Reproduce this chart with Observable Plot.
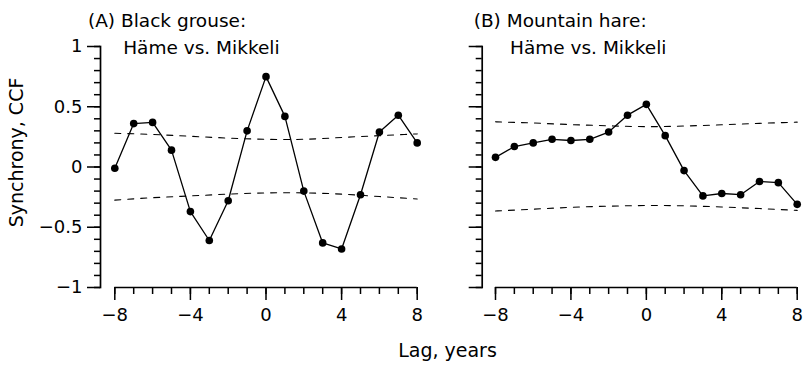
<!DOCTYPE html>
<html><head><meta charset="utf-8">
<script src="https://cdn.jsdelivr.net/npm/d3@7"></script>
<script src="https://cdn.jsdelivr.net/npm/@observablehq/plot@0.6"></script>
<style>
body{margin:0;background:#fff}
#wrap{position:relative;width:806px;height:365px;font-family:"DejaVu Sans"}
#wrap > svg{position:absolute;top:0}
</style>
</head><body><div id="wrap"></div>
<script>
// ---- data ----
const lags = [-8,-7,-6,-5,-4,-3,-2,-1,0,1,2,3,4,5,6,7,8];
const grouseCCF = [-0.01,0.36,0.37,0.14,-0.37,-0.61,-0.28,0.30,0.75,0.42,-0.20,-0.63,-0.68,-0.23,0.29,0.43,0.20];
const hareCCF   = [0.08,0.17,0.20,0.23,0.22,0.23,0.29,0.43,0.52,0.26,-0.03,-0.24,-0.22,-0.23,-0.12,-0.13,-0.31];
const boundLags = [-8,-6,-4,-2,0,2,4,6,8];
const grouseUpper = [0.28,0.27,0.255,0.24,0.23,0.23,0.245,0.26,0.275];
const grouseLower = [-0.275,-0.255,-0.24,-0.225,-0.215,-0.215,-0.225,-0.245,-0.265];
const hareUpper = [0.375,0.365,0.352,0.342,0.335,0.34,0.35,0.362,0.372];
const hareLower = [-0.365,-0.35,-0.335,-0.325,-0.32,-0.322,-0.332,-0.345,-0.36];
const xMajorTicks = [-8,-4,0,4,8];
const yMajorTicks = [-1,-0.5,0,0.5,1];
const yMinorTicks = d3.range(-10,11).map(d => d/10);
const titlesA = ["(A) Black grouse:", "Häme vs. Mikkeli"];
const titlesB = ["(B) Mountain hare:", "Häme vs. Mikkeli"];
const xLabel = "Lag, years";
const yLabel = "Synchrony, CCF";

const fmt = d => (d < 0 ? "\u2212" : "") + Math.abs(d);

function panel(ccf, upper, lower, o) {
  const pts = lags.map((l,i)=>({lag:l, ccf:ccf[i]}));
  const up = boundLags.map((l,i)=>({lag:l, v:upper[i]}));
  const lo = boundLags.map((l,i)=>({lag:l, v:lower[i]}));
  return Plot.plot({
    width: o.width, height: 365,
    marginLeft: o.ml, marginRight: o.mr, marginTop: 46, marginBottom: 78,
    x: {domain:[-8,8], insetLeft: o.inset, label:null},
    y: {domain:[-1,1], label:null},
    style: {fontFamily:"DejaVu Sans", fontSize:"18px", color:"#000", background:"transparent", overflow:"visible"},
    marks: [
      Plot.frame({anchor:"left", strokeWidth:1.7}),
      Plot.axisY({ticks: yMinorTicks, tickSize: 6, strokeWidth:1.5, tickFormat: () => "", label:null}),
      Plot.axisY({ticks: yMajorTicks, tickSize: 13, tickPadding: 5, strokeWidth:1.5, tickFormat: o.labels ? fmt : () => "", label:null}),
      Plot.ruleY([-1], {x1:-8, x2:8, strokeWidth:1.7}),
      Plot.axisX({ticks: lags, tickSize: 7, strokeWidth:1.5, tickFormat: () => "", label:null}),
      Plot.axisX({ticks: xMajorTicks, tickSize: 13, tickPadding: 8, strokeWidth:1.5, tickFormat: fmt, label:null}),
      Plot.line(up, {x:"lag", y:"v", strokeWidth:1.1, strokeDasharray:"6,7", curve:"natural"}),
      Plot.line(lo, {x:"lag", y:"v", strokeWidth:1.1, strokeDasharray:"6,7", curve:"natural"}),
      Plot.line(pts, {x:"lag", y:"ccf", strokeWidth:1.3}),
      Plot.dot(pts, {x:"lag", y:"ccf", r:3.8, fill:"#000"})
    ]
  });
}

const wrap = document.getElementById("wrap");
const left = panel(grouseCCF, grouseUpper, grouseLower, {width:440, ml:100, mr:23.3, inset:14.3, labels:true});
left.style.left = "0px";
const right = panel(hareCCF, hareUpper, hareLower, {width:366, ml:41.7, mr:9.3, inset:13.3, labels:false});
right.style.left = "440px";
wrap.appendChild(left);
wrap.appendChild(right);

// overlay text: titles and axis labels
const ov = d3.create("svg").attr("width",806).attr("height",365)
  .style("left","0px").style("overflow","visible")
  .attr("font-family","DejaVu Sans").attr("fill","#000");
ov.append("text").attr("x",88).attr("y",26.7).attr("font-size",18.5).text(titlesA[0]);
ov.append("text").attr("x",123.2).attr("y",54.3).attr("font-size",18.5).text(titlesA[1]);
ov.append("text").attr("x",473.7).attr("y",26.7).attr("font-size",18.5).text(titlesB[0]);
ov.append("text").attr("x",510).attr("y",54.3).attr("font-size",18.5).text(titlesB[1]);
ov.append("text").attr("x",447.5).attr("y",357.3).attr("font-size",19).attr("text-anchor","middle").text(xLabel);
ov.append("text").attr("transform","translate(23.3,152.5) rotate(-90)").attr("font-size",19).attr("text-anchor","middle").text(yLabel);
wrap.appendChild(ov.node());
</script>
</body></html>
